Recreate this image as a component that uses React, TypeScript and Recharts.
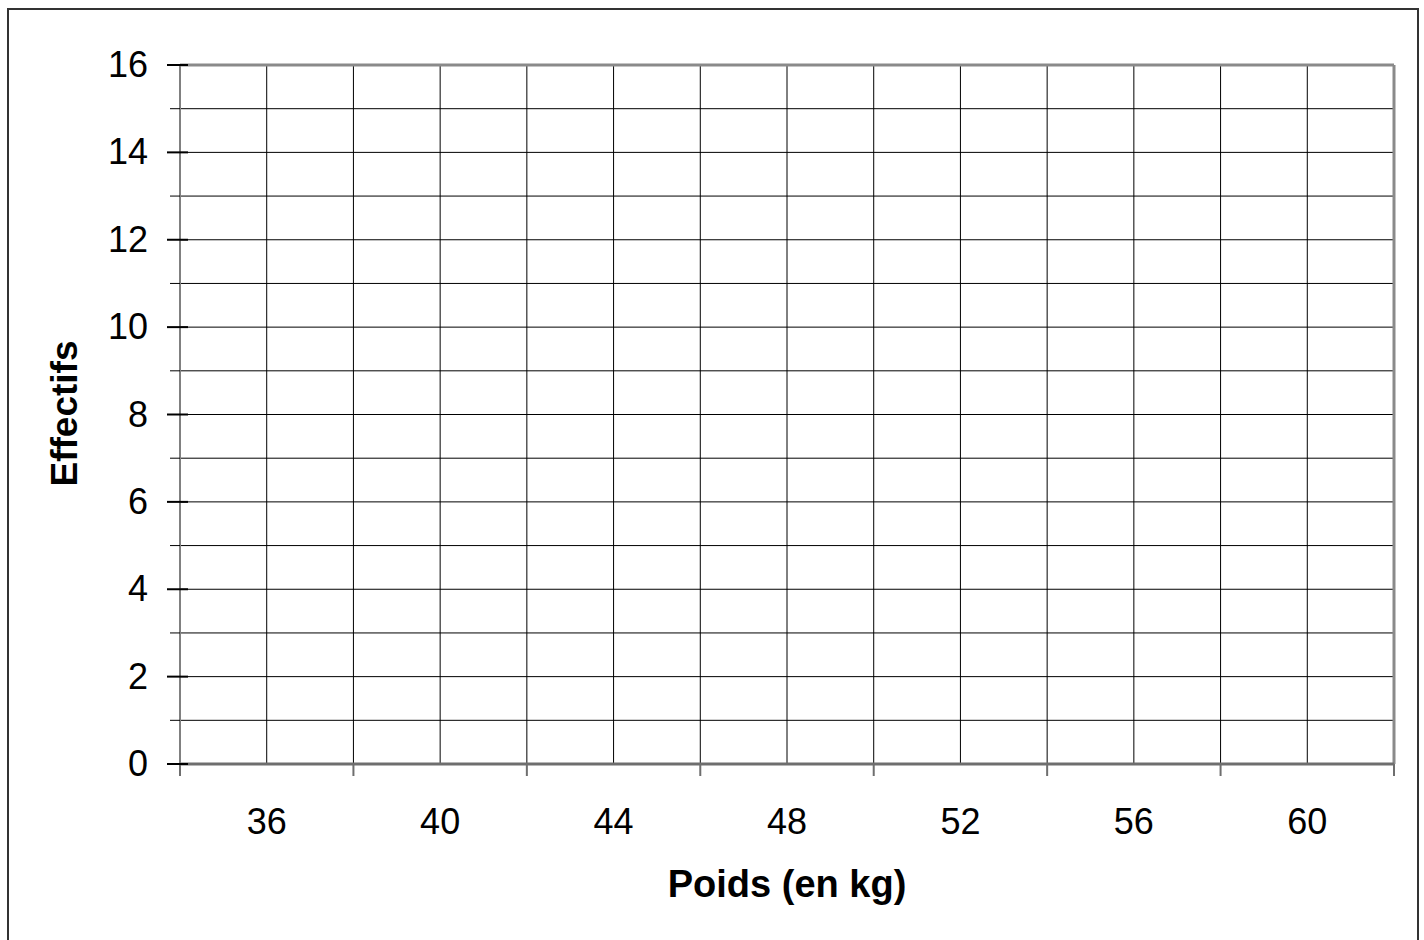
import React from "react";
import { ScatterChart, Scatter, XAxis, YAxis, CartesianGrid, ReferenceLine } from "recharts";

// Empty frequency chart: weight (kg) vs counts — no data plotted
const poidsTicks = [34, 36, 38, 40, 42, 44, 46, 48, 50, 52, 54, 56, 58, 60, 62];
const poidsLabels = [36, 40, 44, 48, 52, 56, 60];
const effectifTicks = [0, 1, 2, 3, 4, 5, 6, 7, 8, 9, 10, 11, 12, 13, 14, 15, 16];
const effectifLabels = [0, 2, 4, 6, 8, 10, 12, 14, 16];
const effectifs: { poids: number; n: number }[] = [];

const FONT = "'Liberation Sans', Arial, sans-serif";
const AXIS_GRAY = "#6e6e6e";

const XTick = (props: any) => {
  const { x, y, payload } = props;
  const v = payload.value;
  if (poidsLabels.includes(v)) {
    return (
      <text x={x} y={y + 70} textAnchor="middle" fontSize={36} fontFamily={FONT} fill="#000">
        {v}
      </text>
    );
  }
  return <line x1={x} x2={x} y1={y} y2={y + 12} stroke={AXIS_GRAY} strokeWidth={2} />;
};

const YTick = (props: any) => {
  const { x, y, payload } = props;
  const v = payload.value;
  if (effectifLabels.includes(v)) {
    return (
      <g>
        <line x1={x - 13} x2={x + 8} y1={y} y2={y} stroke="#000" strokeWidth={2} />
        <text x={x - 32} y={y + 12} textAnchor="end" fontSize={36} fontFamily={FONT} fill="#000">
          {v}
        </text>
      </g>
    );
  }
  return <line x1={x - 10} x2={x} y1={y} y2={y} stroke="#000" strokeWidth={1} />;
};

const YTitle = (props: any) => {
  const vb = props.viewBox || {};
  const cx = vb.x - 23;
  const cy = vb.y + vb.height / 2 - 1;
  return (
    <text
      x={cx}
      y={cy}
      transform={`rotate(-90, ${cx}, ${cy})`}
      textAnchor="middle"
      fontSize={37}
      fontWeight="bold"
      fontFamily={FONT}
      fill="#000"
    >
      Effectifs
    </text>
  );
};

const XTitle = (props: any) => {
  const vb = props.viewBox || {};
  const cx = vb.x + vb.width / 2;
  return (
    <text x={cx} y={vb.y + 133} textAnchor="middle" fontSize={38} fontWeight="bold" fontFamily={FONT} fill="#000">
      Poids (en kg)
    </text>
  );
};

export default function App() {
  return (
    <div style={{ position: "fixed", left: 0, top: 0, width: 1424, height: 940, overflow: "hidden", background: "#fff" }}>
      <div
        style={{
          position: "absolute",
          left: 7,
          top: 8,
          width: 1408,
          height: 1000,
          border: "2px solid #333",
        }}
      />
      <div style={{ position: "absolute", left: 0, top: 0 }}>
        <ScatterChart width={1424} height={940} margin={{ top: 65, right: 30, bottom: 116, left: 100 }}>
          <CartesianGrid stroke="#000" strokeWidth={1} />
          <XAxis
            type="number"
            dataKey="poids"
            domain={[34, 62]}
            ticks={poidsTicks}
            interval={0}
            height={60}
            tickLine={false}
            tickSize={0}
            tickMargin={0}
            tick={<XTick />}
            axisLine={{ stroke: AXIS_GRAY, strokeWidth: 3 }}
            label={<XTitle />}
            allowDataOverflow
          />
          <YAxis
            type="number"
            dataKey="n"
            domain={[0, 16]}
            ticks={effectifTicks}
            interval={0}
            width={80}
            tickLine={false}
            tickSize={0}
            tickMargin={0}
            tick={<YTick />}
            axisLine={{ stroke: "#808080", strokeWidth: 2 }}
            label={<YTitle />}
            allowDataOverflow
          />
          <ReferenceLine y={16} stroke="#8a8a8a" strokeWidth={3} />
          <ReferenceLine x={62} stroke="#8a8a8a" strokeWidth={3} />
          <Scatter data={effectifs} fill="#000" isAnimationActive={false} />
        </ScatterChart>
      </div>
    </div>
  );
}
